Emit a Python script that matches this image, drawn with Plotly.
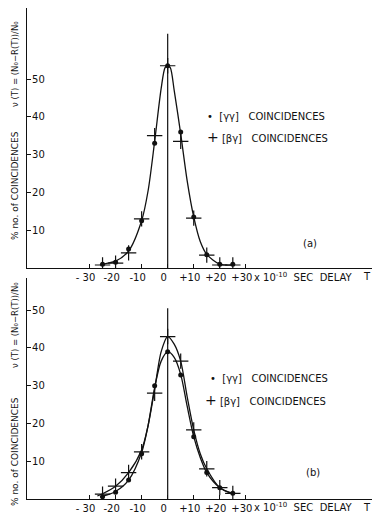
import plotly.graph_objects as go

# ---- data (delay in units of 1e-10 s, values in % coincidences) ----
delay_pts = [-25, -20, -15, -10, -5, 0, 5, 10, 15, 20, 25]
tick_vals = [-30, -20, -10, 0, 10, 20, 30]
tick_text = ["- 30", "-20", "-10", "0", "+10", "+20", "+30"]
y_ticks = [0, 10, 20, 30, 40, 50]

# panel (a)
a_gg = [1.0, 1.5, 5.0, 12.5, 33.0, 53.5, 36.0, 13.5, 3.5, 1.0, 1.0]
a_bg = [0.8, 1.3, 4.0, 13.0, 35.0, 53.5, 33.5, 13.2, 3.4, 0.8, 0.8]
a_curve_x = [-26, -25, -20, -15, -10, -7.5, -5, -2.5, -1, 0, 1, 2.5, 5, 7.5, 10, 12.5, 15, 20, 25]
a_curve_y = [0.8, 1.0, 1.8, 4.5, 12.5, 20.5, 33.5, 47.5, 53.0, 53.5, 53.0, 47.0, 35.5, 23.0, 13.5, 7.0, 3.6, 1.0, 0.8]

# panel (b)
b_gg = [0.6, 1.8, 5.0, 12.0, 30.0, 39.0, 32.8, 16.5, 7.0, 3.0, 1.5]
b_bg = [1.3, 3.4, 7.0, 12.5, 28.0, 43.0, 36.5, 18.3, 8.0, 3.0, 1.5]
b_gg_curve_x = [-26, -25, -20, -15, -10, -7.5, -5, -2.5, 0, 2.5, 5, 7.5, 10, 12.5, 15, 20, 25]
b_gg_curve_y = [0.5, 0.7, 2.0, 5.0, 12.3, 19.5, 29.5, 36.5, 39.0, 37.5, 33.0, 24.5, 16.5, 11.0, 7.0, 3.0, 1.3]
b_bg_curve_x = [-27, -25, -20, -15, -10, -7.5, -5, -2.5, 0, 2.5, 5, 7.5, 10, 12.5, 15, 20, 25]
b_bg_curve_y = [0.8, 1.4, 3.4, 7.0, 13.0, 19.5, 29.0, 39.0, 43.0, 41.0, 36.5, 27.0, 18.3, 12.0, 8.0, 3.0, 1.5]

vline_a = [0, 62]
vline_b = [0, 50.5]

INK = "#111111"
FONT = "DejaVu Sans"

fig = go.Figure()

def add_panel(xa, ya, curves, gg, bg, vline):
    for cx, cy in curves:
        fig.add_trace(go.Scatter(x=cx, y=cy, mode="lines", xaxis=xa, yaxis=ya,
                                 line=dict(color=INK, width=1.3, shape="spline", smoothing=0.8),
                                 showlegend=False, hoverinfo="skip"))
    fig.add_trace(go.Scatter(x=[0, 0], y=vline, mode="lines", xaxis=xa, yaxis=ya,
                             line=dict(color=INK, width=1.2), showlegend=False, hoverinfo="skip"))
    fig.add_trace(go.Scatter(x=delay_pts, y=gg, mode="markers", xaxis=xa, yaxis=ya,
                             marker=dict(symbol="circle", size=5, color=INK),
                             name="[γγ] coincidences", showlegend=False))
    fig.add_trace(go.Scatter(x=delay_pts, y=bg, mode="markers", xaxis=xa, yaxis=ya,
                             marker=dict(symbol="cross-thin", size=11, color=INK,
                                         line=dict(color=INK, width=1.2)),
                             name="[βγ] coincidences", showlegend=False))

add_panel("x", "y", [(a_curve_x, a_curve_y)], a_gg, a_bg, vline_a)
add_panel("x2", "y2", [(b_gg_curve_x, b_gg_curve_y), (b_bg_curve_x, b_bg_curve_y)], b_gg, b_bg, vline_b)

xcommon = dict(range=[-54, 81.5], tickvals=tick_vals, ticktext=tick_text, ticks="inside",
               ticklen=4, tickcolor=INK, showline=True, linecolor=INK, linewidth=1.2,
               ticklabelshift=-4,
               showgrid=False, zeroline=False, tickfont=dict(family=FONT, size=10, color=INK))
ycommon = dict(tickvals=y_ticks, ticktext=[str(v) for v in y_ticks], ticks="inside",
               ticklen=4, tickcolor=INK, ticklabelposition="inside", showline=True,
               linecolor=INK, linewidth=1.2, showgrid=False, zeroline=False,
               tickfont=dict(family=FONT, size=10, color=INK))

# the page body has an 8px margin; figure occupies page pixels 8..380, 8..516
OFF = 8
W, H = 380 - OFF, 516 - OFF
L, R, T, B = 27 - OFF, 0, 0, 17
pw, ph = W - L - R, H - T - B
BASE = H - B + OFF  # page y of bottom axis (499)

def px(x):
    return (x - 27) / pw

def py(y):
    return (BASE - y) / ph

fig.update_layout(
    width=W, height=H, margin=dict(l=L, r=R, t=T, b=B),
    paper_bgcolor="white", plot_bgcolor="white", showlegend=False,
    xaxis=dict(anchor="y", **xcommon),
    xaxis2=dict(anchor="y2", **xcommon),
    yaxis=dict(domain=[py(268), 1], range=[0, (268 - OFF) / 3.78], **ycommon),
    yaxis2=dict(domain=[0, py(278)], range=[0, 58.5], **ycommon),
)

ann = []

def note(text, x, y, font, xanchor="center", angle=0):
    ann.append(dict(text=text, x=px(x), y=py(y), xref="paper", yref="paper",
                    xanchor=xanchor, yanchor="middle", textangle=angle,
                    showarrow=False, font=font))

tfont = dict(family=FONT, size=9, color=INK)
nfont = dict(family=FONT, size=8.5, color=INK)
for (yc1, yc2) in [(186, 64), (452, 325)]:
    note("% no. of COINCIDENCES", 15, yc1, tfont, angle=-90)
    note("ν (T) = (N₀−R(T))/N₀", 15, yc2, nfont, angle=-90)

leg_font = dict(family=FONT, size=10, color=INK)
big = "<span style='font-size:14px'>+</span>"
for (xd, yd), (xc, yc) in [((205, 116), (205, 137)), ((208, 378), (203, 400))]:
    note("•  [γγ]   COINCIDENCES", xd, yd, leg_font, xanchor="left")
    note(big + " [βγ]   COINCIDENCES", xc, yc, leg_font, xanchor="left")

note("(a)", 310, 243, leg_font)
note("(b)", 313, 472, leg_font)
for yy in (277, 507):
    note("x 10<sup>-10</sup>  SEC  DELAY", 252, yy, leg_font, xanchor="left")
    note("T", 367, yy, leg_font)
fig.update_layout(annotations=ann)

fig.write_html("out.html")
